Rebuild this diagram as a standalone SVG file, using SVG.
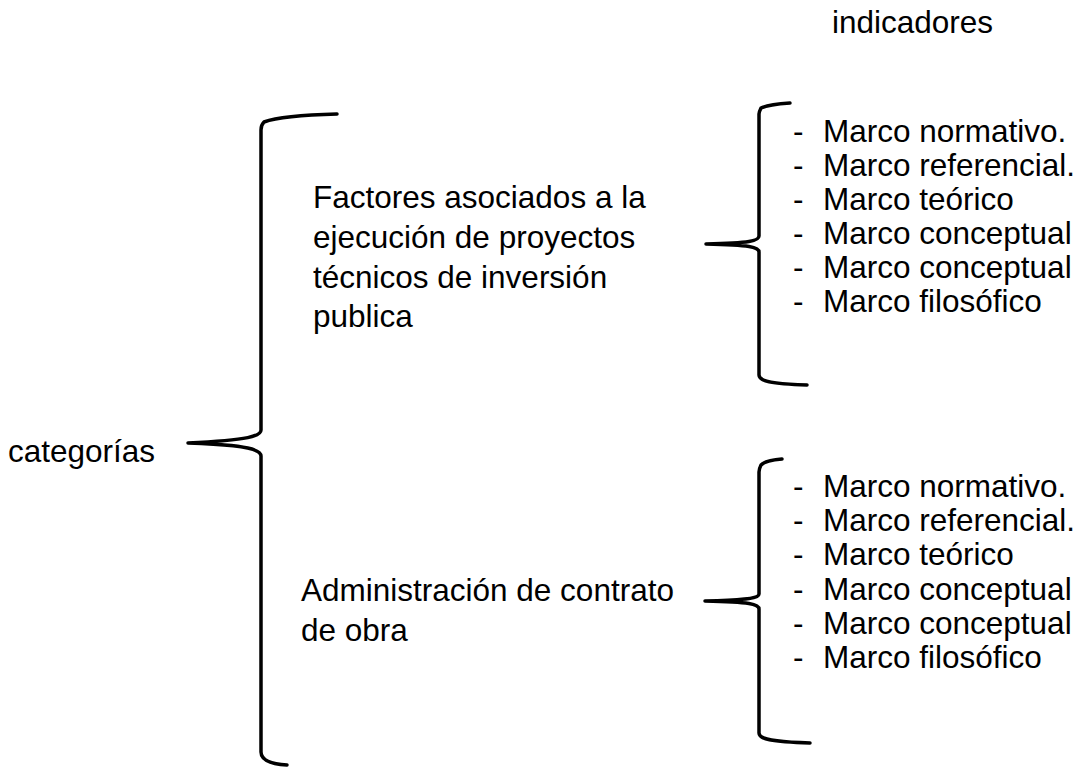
<svg xmlns="http://www.w3.org/2000/svg" width="1081" height="768" viewBox="0 0 1081 768">
<style>
text{font-family:"Liberation Sans",Arial,sans-serif;font-size:31.5px;fill:#000}
.br{fill:none;stroke:#000;stroke-width:3.5;stroke-linecap:round;stroke-linejoin:round}
</style>
<rect width="1081" height="768" fill="#fff"/>
<g id="connectors">
<path class="br" d="M337,114 C300,115 275,118 264,122 C262,124 261,127 261,130 L261,430 C261,436 250,440 188,443 C250,445 261,450 261,456 L261,752 C261,760 270,764 287,765"/>
<path class="br" d="M790,103 C775,104 765,106 761,108 C760,110 759,112 759,114 L759,236 C759,241 750,243 706,244 C750,245 759,247 759,252 L759,375 C759,381 770,384 807,385"/>
<path class="br" d="M782,459 C770,460 764,462 761,465 C760,467 759,469 759,472 L759,594 C759,598 750,600 705,601 C750,602 759,604 759,609 L759,733 C759,739 770,742 810,743"/>
</g>
<g id="indicadores-title"><text x="832" y="33">indicadores</text></g>
<g id="categorias"><text x="8" y="462">categorías</text></g>
<g id="factores">
<text x="313" y="208">Factores asociados a la</text>
<text x="313" y="248">ejecución de proyectos</text>
<text x="313" y="288">técnicos de inversión</text>
<text x="313" y="327">publica</text>
</g>
<g id="administracion">
<text x="301" y="601">Administración de contrato</text>
<text x="301" y="641">de obra</text>
</g>
<g id="lista1">
<text x="793" y="142">-</text><text x="823" y="142">Marco normativo.</text>
<text x="793" y="176">-</text><text x="823" y="176">Marco referencial.</text>
<text x="793" y="210">-</text><text x="823" y="210">Marco teórico</text>
<text x="793" y="244">-</text><text x="823" y="244">Marco conceptual</text>
<text x="793" y="278">-</text><text x="823" y="278">Marco conceptual</text>
<text x="793" y="312">-</text><text x="823" y="312">Marco filosófico</text>
</g>
<g id="lista2">
<text x="793" y="497">-</text><text x="823" y="497">Marco normativo.</text>
<text x="793" y="531">-</text><text x="823" y="531">Marco referencial.</text>
<text x="793" y="565">-</text><text x="823" y="565">Marco teórico</text>
<text x="793" y="600">-</text><text x="823" y="600">Marco conceptual</text>
<text x="793" y="634">-</text><text x="823" y="634">Marco conceptual</text>
<text x="793" y="668">-</text><text x="823" y="668">Marco filosófico</text>
</g>
</svg>
